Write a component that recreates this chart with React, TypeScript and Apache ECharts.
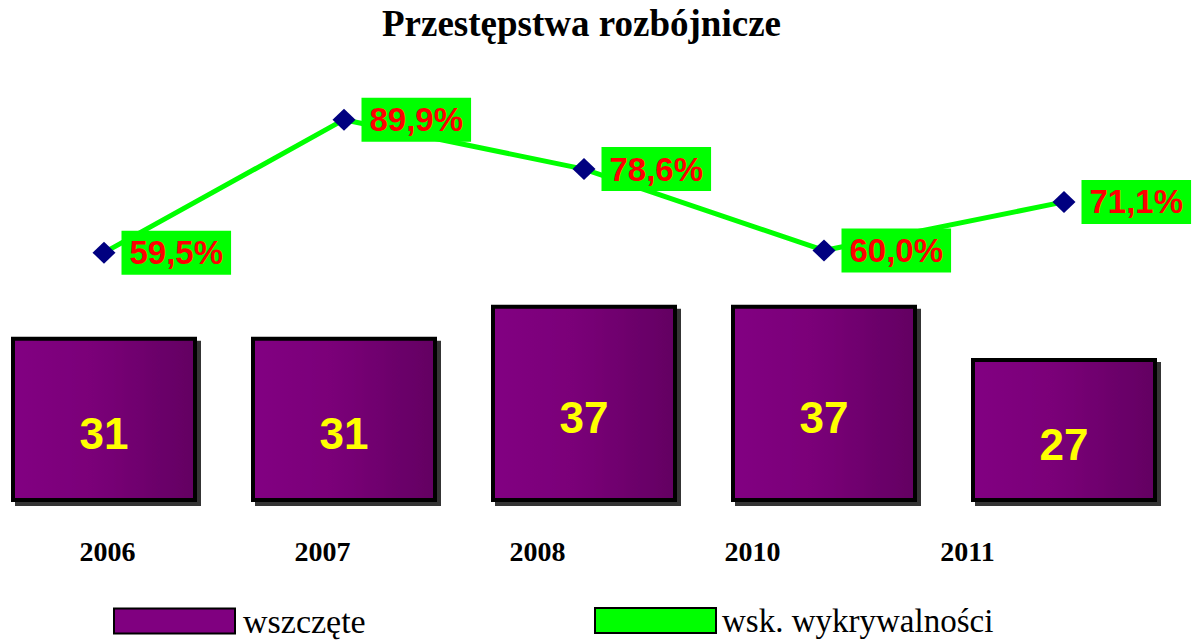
import React, { useEffect, useRef } from "react";
import * as echarts from "echarts";

const titleText = "Przestępstwa rozbójnicze";
const categories = ["2006", "2007", "2008", "2010", "2011"];
const casesStarted = [31, 31, 37, 37, 27];
const detectionRate = [59.5, 89.9, 78.6, 60.0, 71.1];
const seriesNames = ["wszczęte", "wsk. wykrywalności"];

export default function App() {
  const ref = useRef<HTMLDivElement>(null);

  useEffect(() => {
    if (!ref.current) return;
    const chart = echarts.init(ref.current, null, { renderer: "svg" });
    const serif = "'Liberation Serif', 'Times New Roman', serif";
    const sans = "'Liberation Sans', Arial, sans-serif";

    const option: any = {
      animation: false,
      backgroundColor: "#ffffff",
      title: {
        text: titleText,
        left: 382,
        top: 5,
        padding: 0,
        textStyle: {
          fontFamily: serif,
          fontWeight: "bold",
          fontSize: 37,
          color: "#000",
        },
      },
      legend: [
        {
          left: 113,
          top: 604,
          padding: 0,
          itemWidth: 121,
          itemHeight: 25,
          selectedMode: false,
          textStyle: { fontFamily: serif, fontSize: 34, color: "#000", padding: [0, 0, 0, 3] },
          data: [
            {
              name: seriesNames[0],
              icon: "rect",
              itemStyle: { color: "#800080", borderColor: "#000", borderWidth: 2, shadowBlur: 0, shadowOffsetX: 0, shadowOffsetY: 0 },
            },
          ],
        },
        {
          left: 594,
          top: 604,
          padding: 0,
          itemWidth: 121,
          itemHeight: 25,
          selectedMode: false,
          textStyle: { fontFamily: serif, fontSize: 33, color: "#000", padding: [0, 0, 0, 1] },
          data: [
            {
              name: seriesNames[1],
              icon: "rect",
              itemStyle: { color: "#00ff00", borderColor: "#000", borderWidth: 2 },
              lineStyle: { width: 0, opacity: 0 },
            },
          ],
        },
      ],
      grid: [
        { left: -16, right: 8, top: 75.5, bottom: 140, outerBoundsMode: "none", containLabel: false },
        { left: 0, width: 1075, top: 75.5, bottom: 140, outerBoundsMode: "none", containLabel: false },
      ],
      xAxis: [
        {
          type: "category",
          gridIndex: 0,
          data: categories,
          axisLine: { show: false },
          axisTick: { show: false },
          axisLabel: { show: false },
          splitLine: { show: false },
        },
        {
          type: "category",
          gridIndex: 1,
          data: categories,
          axisLine: { show: false },
          axisTick: { show: false },
          splitLine: { show: false },
          axisLabel: {
            show: true,
            margin: 35,
            fontFamily: serif,
            fontWeight: "bold",
            fontSize: 28,
            color: "#000",
          },
        },
      ],
      yAxis: [
        { type: "value", gridIndex: 0, min: 0, max: 80, show: false, splitLine: { show: false } },
        { type: "value", gridIndex: 0, min: 2.5, max: 100, show: false, splitLine: { show: false } },
        { type: "value", gridIndex: 1, min: 0, max: 1, show: false, splitLine: { show: false } },
      ],
      series: [
        {
          name: seriesNames[0],
          type: "bar",
          xAxisIndex: 0,
          yAxisIndex: 0,
          data: casesStarted,
          barWidth: 186,
          itemStyle: {
            color: new echarts.graphic.LinearGradient(0, 0, 1, 0, [
              { offset: 0, color: "#820082" },
              { offset: 0.45, color: "#7a0078" },
              { offset: 1, color: "#630062" },
            ]),
            borderColor: "#000",
            borderWidth: 4,
            shadowColor: "rgba(30,30,30,0.9)",
            shadowBlur: 0,
            shadowOffsetX: 4,
            shadowOffsetY: 4,
          },
          label: {
            show: true,
            position: "inside",
            offset: [0, 14],
            color: "#ffff00",
            fontFamily: sans,
            fontWeight: "bold",
            fontSize: 44,
          },
          emphasis: { disabled: true },
          z: 2,
        },
        {
          name: seriesNames[1],
          type: "line",
          xAxisIndex: 0,
          yAxisIndex: 1,
          data: detectionRate,
          symbol: "diamond",
          symbolSize: [23, 22],
          itemStyle: { color: "#000080" },
          lineStyle: { color: "#00ff00", width: 5 },
          label: {
            show: true,
            position: "right",
            distance: 6,
            formatter: (p: any) => `${Number(p.value).toFixed(1).replace(".", ",")}%`,
            color: "#ff0000",
            backgroundColor: "#00ff00",
            fontFamily: sans,
            fontWeight: "bold",
            fontSize: 33,
            lineHeight: 34,
            padding: [5, 8, 5, 8],
          },
          emphasis: { disabled: true },
          z: 3,
        },
      ],
    };

    chart.setOption(option);
    return () => chart.dispose();
  }, []);

  return (
    <div
      ref={ref}
      style={{ position: "fixed", left: 0, top: 0, width: 1192, height: 642 }}
    />
  );
}
